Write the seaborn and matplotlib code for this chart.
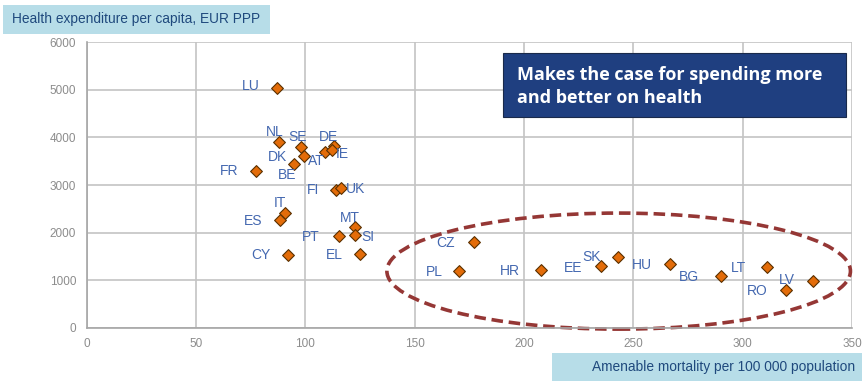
import numpy as np
import pandas as pd
import matplotlib
matplotlib.use('Agg')
import matplotlib.pyplot as plt
from matplotlib.patches import Ellipse, Rectangle
import seaborn as sns

# data
countries = ['LU', 'NL', 'SE', 'DK', 'AT', 'BE', 'DE', 'IE', 'FR', 'FI', 'UK', 'IT', 'ES', 'MT',
             'SI', 'PT', 'CY', 'EL', 'CZ', 'PL', 'HR', 'EE', 'SK', 'HU', 'BG', 'LT', 'LV', 'RO']
mortality = [87.2, 87.9, 98.2, 99.2, 109.0, 94.8, 113.1, 112.3, 77.6, 114.2, 116.4, 90.5, 88.6, 122.8,
             122.6, 115.3, 92.2, 124.9, 177.1, 170.3, 207.8, 235.0, 243.2, 266.7, 290.0, 311.2, 332.2, 319.8]
expenditure = [5040, 3900, 3800, 3610, 3685, 3445, 3825, 3727, 3286, 2893, 2941, 2416, 2256, 2122,
               1947, 1920, 1521, 1548, 1794, 1185, 1206, 1303, 1479, 1345, 1092, 1282, 975, 786]

xlabel = 'Amenable mortality per 100 000 population'
ylabel = 'Health expenditure per capita, EUR PPP'
message = 'Makes the case for spending more\nand better on health'

# label offsets in pixels (dx right, dy up)
offsets = {'LU': (-27, 2), 'NL': (-4, 10), 'SE': (-4, 10), 'DK': (-26, -1), 'AT': (-9, -9),
           'BE': (-7, -11), 'DE': (-5, 9), 'IE': (10, -4), 'FR': (-27, 0), 'FI': (-23, 0),
           'UK': (14, -1), 'IT': (-5, 10), 'ES': (-27, -1), 'MT': (-5, 9), 'SI': (13, -2),
           'PT': (-28, -1), 'CY': (-27, 0), 'EL': (-25, -1), 'CZ': (-28, -1), 'PL': (-25, -1),
           'HR': (-31, -1), 'EE': (-27, -2), 'SK': (-27, 0), 'HU': (-28, -1), 'BG': (-32, -1),
           'LT': (-29, -1), 'LV': (-26, 1), 'RO': (-29, -1)}

df = pd.DataFrame({'country': countries, 'mortality': mortality, 'expenditure': expenditure})

sns.set_style('white')
plt.rcParams['font.family'] = ['Liberation Sans', 'DejaVu Sans']

fig = plt.figure(figsize=(8.66, 3.86), dpi=100)
ax = fig.add_axes([0.1001, 0.151, 0.8837, 0.7394])

sns.scatterplot(data=df, x='mortality', y='expenditure', ax=ax, marker='D', s=36,
                color='#E36C09', edgecolor='#5a3000', linewidth=0.8, zorder=3)

label_color = '#4468b0'
for c, xv, yv in zip(countries, mortality, expenditure):
    dx, dy = offsets[c]
    ax.annotate(c, (xv, yv), xytext=(dx * 0.72, dy * 0.72), textcoords='offset points',
                ha='center', va='center', fontsize=10, color=label_color, zorder=4)

ax.set_xlim(0, 350)
ax.set_ylim(0, 6000)
ax.set_xticks(np.arange(0, 351, 50))
ax.set_yticks(np.arange(0, 6001, 1000))
ax.grid(True, color='#c4c4c4', linewidth=1.2)
ax.set_axisbelow(True)
for s in ['top', 'right']:
    ax.spines[s].set_visible(False)
for s in ['left', 'bottom']:
    ax.spines[s].set_color('#a6a6a6')
    ax.spines[s].set_linewidth(1.2)
ax.tick_params(axis='both', colors='#8c8c8c', labelsize=8.5, length=4, width=1, direction='out',
               labelcolor='#8c8c8c')
ax.set_xlabel('')
ax.set_ylabel('')

# dashed ellipse around the eastern countries
ell = Ellipse((243.3, 1190), width=212, height=2440, fill=False, edgecolor='#953735',
              linestyle=(0, (3.2, 1.6)), linewidth=2.6, zorder=2, clip_on=False)
ax.add_patch(ell)

# axis title boxes
fig.patches.append(Rectangle((3 / 866, 1 - 34 / 386), 267 / 866, 29 / 386, transform=fig.transFigure,
                             facecolor='#b7dde8', edgecolor='none'))
fig.text(12 / 866, 1 - 19.5 / 386, ylabel, fontsize=9.9, color='#1f497d', ha='left', va='center')
fig.patches.append(Rectangle((552 / 866, 1 - 381 / 386), 310 / 866, 28 / 386, transform=fig.transFigure,
                             facecolor='#b7dde8', edgecolor='none'))
fig.text(855 / 866, 1 - 367 / 386, xlabel, fontsize=9.9, color='#1f497d', ha='right', va='center')

# message box
fig.patches.append(Rectangle((503 / 866, 1 - 117 / 386), 343 / 866, 64 / 386, transform=fig.transFigure,
                             facecolor='#1f3f80', edgecolor='#1a2a4a', linewidth=0.8, zorder=5))
fig.text(517 / 866, 1 - 86.5 / 386, message, fontsize=13, color='white', fontweight='bold',
         family=['Open Sans', 'DejaVu Sans'], ha='left', va='center', linespacing=1.3, zorder=6)

fig.savefig('out.png', dpi=100)
